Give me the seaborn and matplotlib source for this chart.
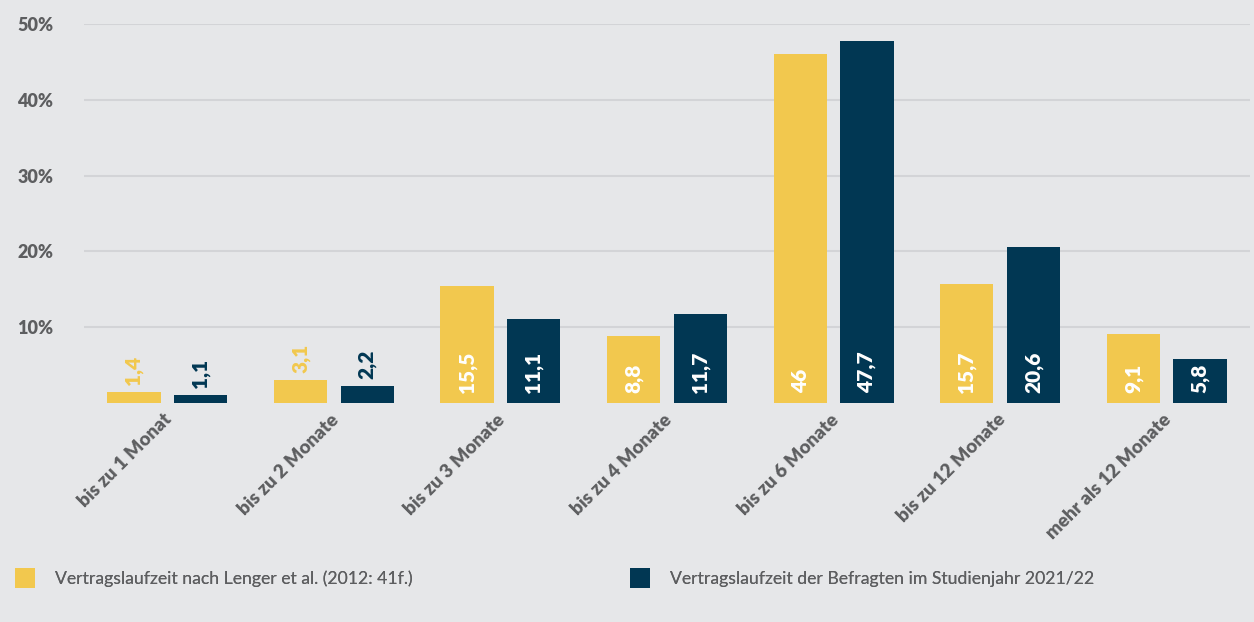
import matplotlib
matplotlib.use("Agg")
import matplotlib.pyplot as plt
import matplotlib.transforms as mtransforms
from matplotlib.patches import Patch
import seaborn as sns
import pandas as pd

categories = ["bis zu 1 Monat", "bis zu 2 Monate", "bis zu 3 Monate", "bis zu 4 Monate",
              "bis zu 6 Monate", "bis zu 12 Monate", "mehr als 12 Monate"]
series_names = ["Vertragslaufzeit nach Lenger et al. (2012: 41f.)",
                "Vertragslaufzeit der Befragten im Studienjahr 2021/22"]
lenger = [1.4, 3.1, 15.5, 8.8, 46, 15.7, 9.1]
befragte = [1.1, 2.2, 11.1, 11.7, 47.7, 20.6, 5.8]
y_ticks = [10, 20, 30, 40, 50]
y_tick_labels = ["10%", "20%", "30%", "40%", "50%"]

BG = "#e6e7e9"
GRID = "#d3d4d7"
YELLOW = "#f2c84e"
NAVY = "#013753"
TEXT = "#5d5e60"

df = pd.DataFrame({
    "Kategorie": categories * 2,
    "Reihe": [series_names[0]] * len(categories) + [series_names[1]] * len(categories),
    "Wert": lenger + befragte,
})

sns.set_theme(style="white")
plt.rcParams["font.family"] = ["Lato", "DejaVu Sans"]

fig = plt.figure(figsize=(12.54, 6.22), dpi=100, facecolor=BG)
ax = fig.add_axes([84 / 1254, 1 - 403 / 622, (1250 - 84) / 1254, (403 - 24) / 622])
ax.set_facecolor(BG)

sns.barplot(data=df, x="Kategorie", y="Wert", hue="Reihe", order=categories,
            hue_order=series_names, palette=[YELLOW, NAVY], width=0.8, gap=0.2,
            saturation=1, legend=False, linewidth=0, ax=ax)

ax.set_ylim(0, 50)
ax.set_xlim(-0.5, len(categories) - 0.5)
ax.set_yticks(y_ticks)
ax.set_yticklabels(y_tick_labels, fontsize=13, fontweight="heavy", color=TEXT)
ax.yaxis.grid(True, color=GRID, linewidth=1.5)
ax.set_axisbelow(True)
for s in ax.spines.values():
    s.set_visible(False)
ax.tick_params(axis="both", length=0)
ax.tick_params(axis="y", pad=22)
ax.set_xlabel("")
ax.set_ylabel("")

ax.set_xticks(range(len(categories)))
ax.set_xticklabels(categories, rotation=45, ha="right", va="center",
                   rotation_mode="anchor", fontsize=13.5, fontweight="heavy", color=TEXT)
offset = mtransforms.ScaledTranslation(2 / 100, -9 / 100, fig.dpi_scale_trans)
for lbl in ax.get_xticklabels():
    lbl.set_transform(lbl.get_transform() + offset)

colors = [YELLOW, NAVY]
for ci, cont in enumerate(ax.containers):
    for patch in cont:
        h = patch.get_height()
        xc = patch.get_x() + patch.get_width() / 2
        txt = f"{h:g}".replace(".", ",")
        if h < 5:
            ax.annotate(txt, (xc, h), xytext=(0, 5), textcoords="offset points",
                        rotation=90, ha="center", va="bottom", fontsize=15,
                        fontweight="heavy", color=colors[ci])
        else:
            ax.annotate(txt, (xc, 0), xytext=(0, 7), textcoords="offset points",
                        rotation=90, ha="center", va="bottom", fontsize=15,
                        fontweight="heavy", color="white")

for i, (name, col) in enumerate(zip(series_names, colors)):
    xpos = [15, 630][i]
    leg = fig.legend(handles=[Patch(facecolor=col, edgecolor="none")], labels=[name],
                     loc="center left", bbox_to_anchor=(xpos / 1254, 1 - 578 / 622),
                     frameon=False, borderaxespad=0, borderpad=0, fontsize=12.7,
                     handlelength=1.15, handleheight=1.33, handletextpad=1.1,
                     labelcolor=TEXT)
    fig.add_artist(leg)

fig.savefig("out.png", dpi=100, facecolor=BG)
